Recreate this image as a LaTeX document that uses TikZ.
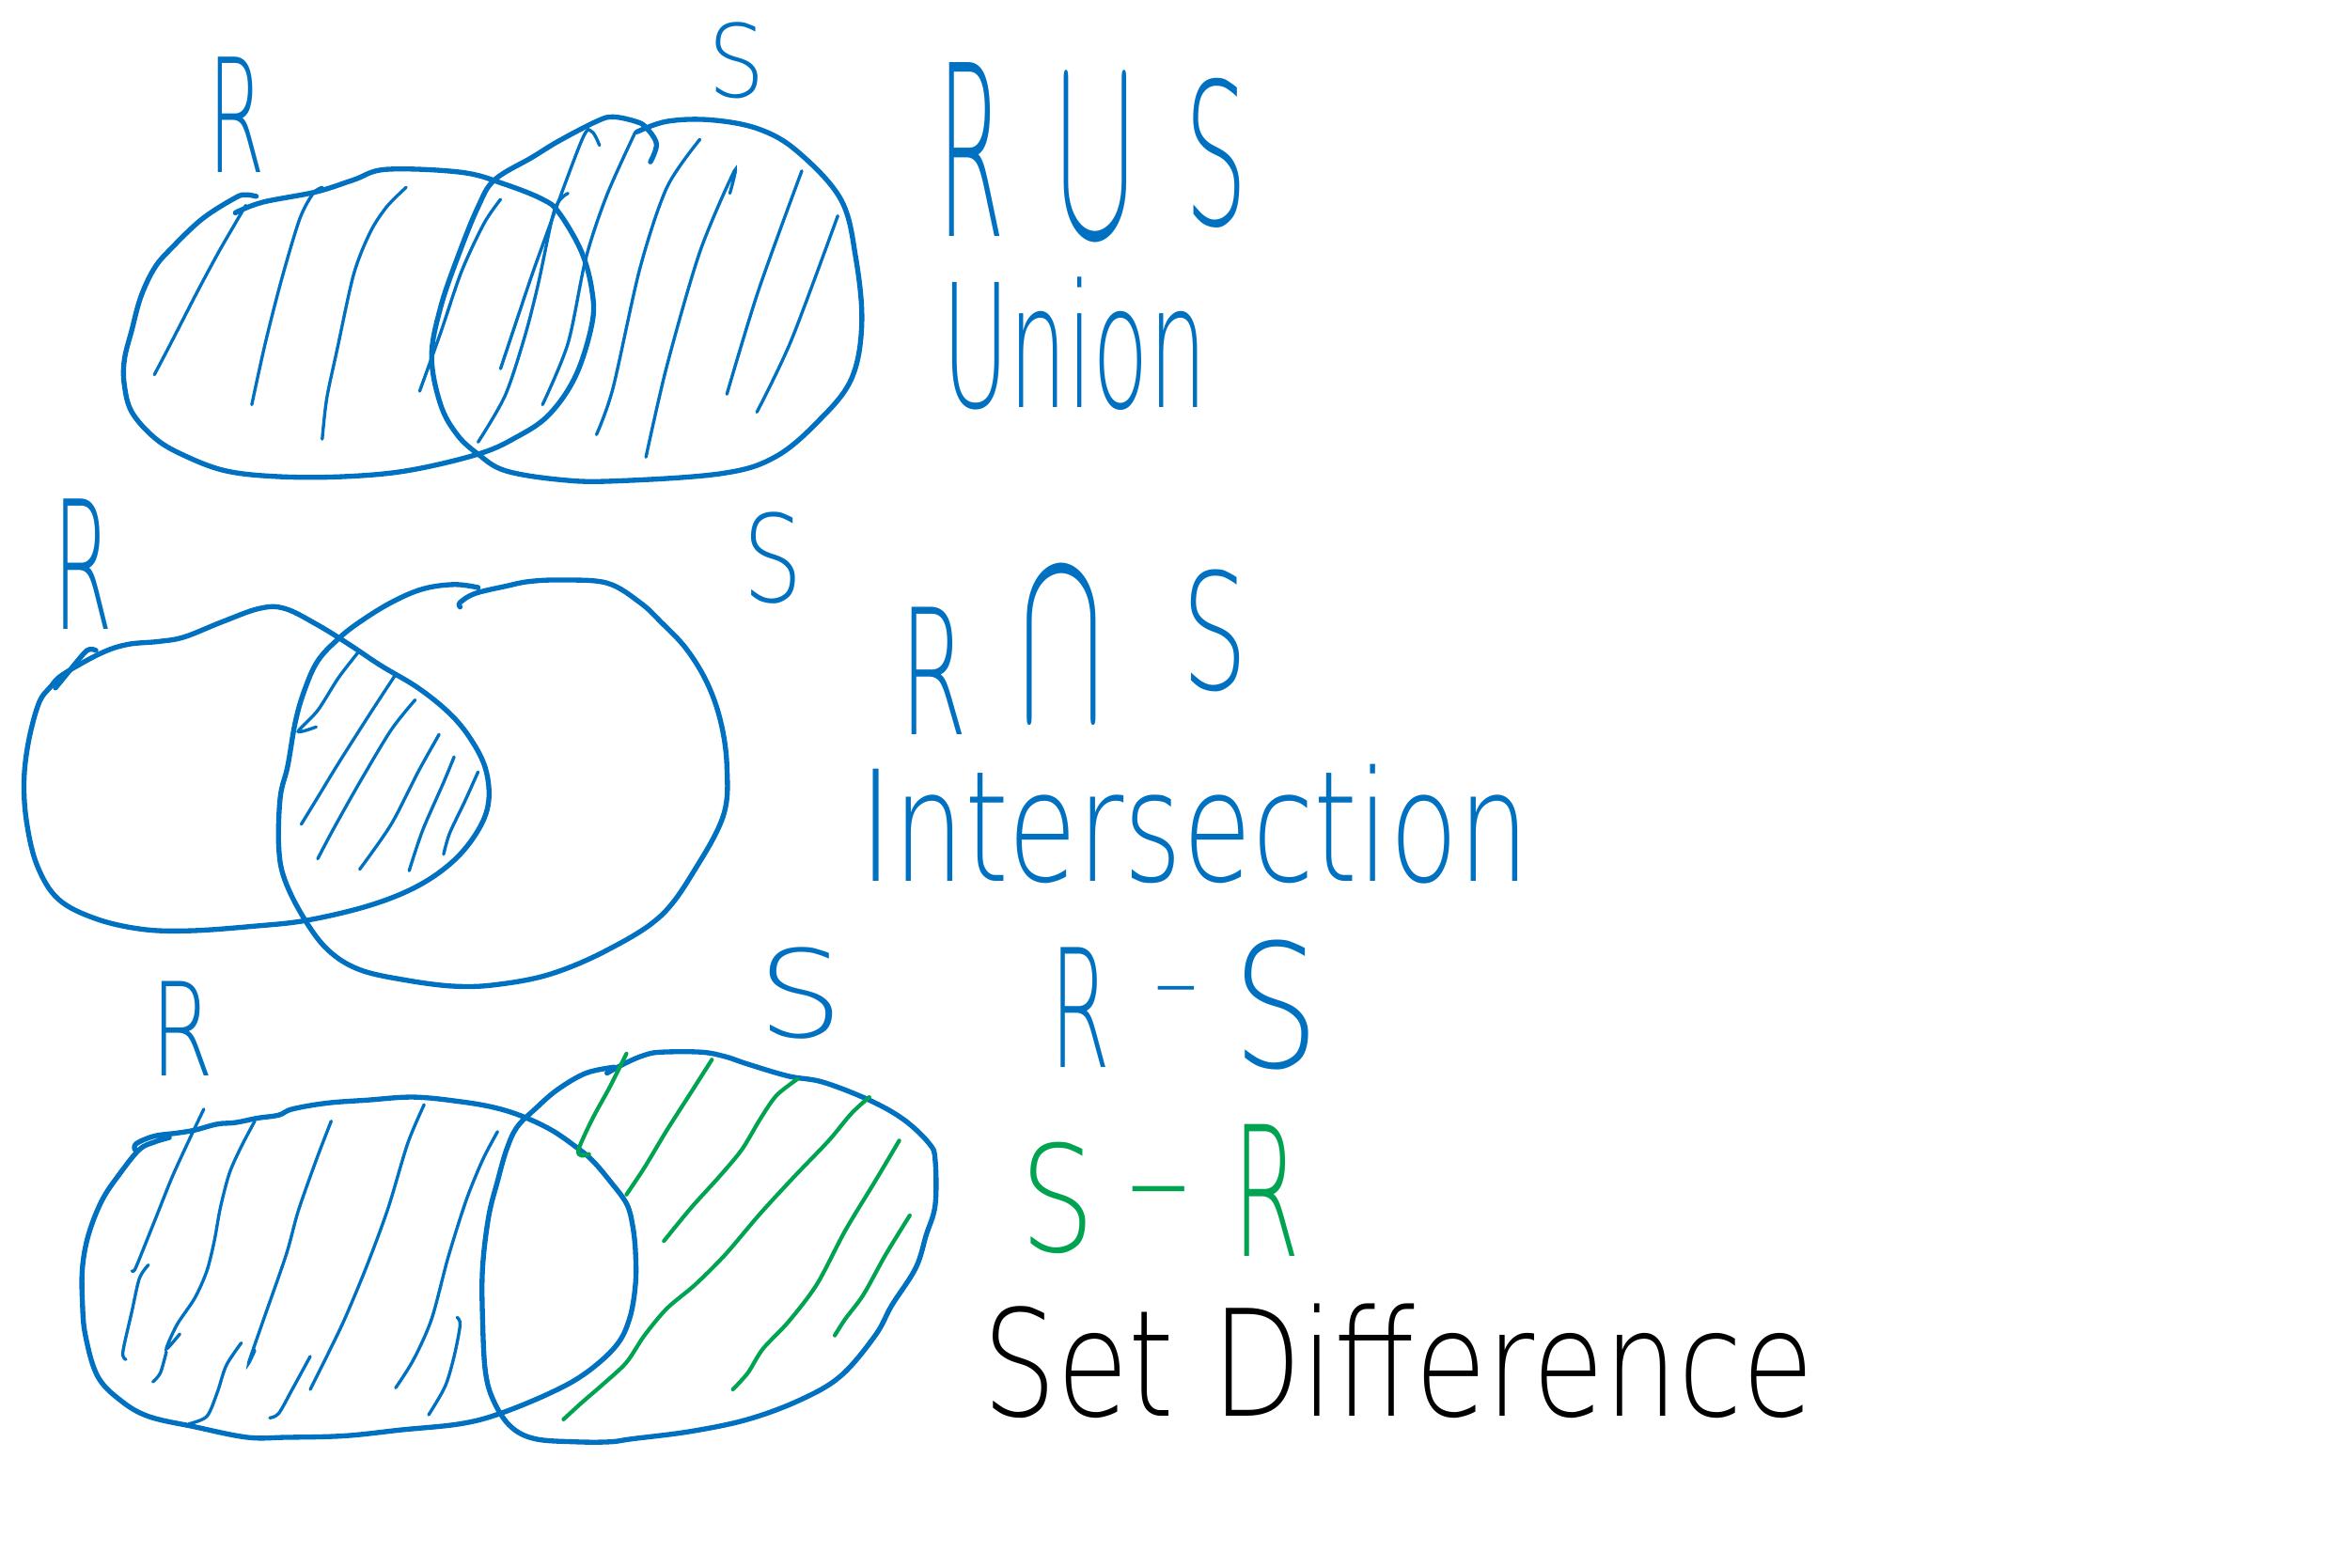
\documentclass[tikz,border=0pt]{standalone}
\usepackage{fontspec}
\usepackage{graphicx}
\IfFontExistsTF{DejaVu Sans ExtraLight}{\newfontfamily\handfont{DejaVu Sans ExtraLight}}{%
  \IfFontExistsTF{Lato Light}{\newfontfamily\handfont{Lato Light}}{\newfontfamily\handfont{Fira Sans}}}
\definecolor{inkblue}{RGB}{0,112,192}
\definecolor{inkgreen}{RGB}{0,163,80}
\newlength{\inkunit}\setlength{\inkunit}{0.01cm}
\newcommand{\hw}[3]{\resizebox{#1\inkunit}{#2\inkunit}{\handfont #3}}
\tikzset{
    blob/.style={draw=inkblue, line width=0.95pt, line cap=round, line join=round},
    hatch/.style={draw=inkblue, line width=0.6pt, line cap=round},
    ghatch/.style={draw=inkgreen, line width=0.75pt, line cap=round},
    hand/.style={inner sep=0pt, anchor=base west, text=inkblue}}

\begin{document}
\begin{tikzpicture}[x=0.01cm, y=-0.01cm]
    \useasboundingbox (0,0) rectangle (1568,1046);

    % union
    \node[hand] (r1) at (138,115) {\hw{38}{77}{R}};
    \node[hand] (s1) at (472,65) {\hw{38}{50}{S}};
    \draw[blob] plot[smooth, tension=0.6] coordinates {(171,131) (164,130) (157,132) (135,146) (114,166) (103,179) (94,198) (88,220) (83,240) (83,257) (88,275) (103,292) (121,303) (150,314) (186,318) (229,318) (272,314) (319,303) (344,292) (366,277) (384,251) (395,216) (395,194) (388,168) (373,142) (362,133) (337,123) (308,115) (258,113) (236,120) (211,128) (175,135) (157,142)};
    \draw[blob] plot[smooth, tension=0.6] coordinates {(434,108) (438,96) (431,85) (424,81) (409,78) (398,81) (373,94) (355,105) (330,120) (319,138) (306,170) (294,205) (288,238) (294,270) (305,290) (319,303) (337,314) (373,320) (409,321) (481,316) (517,305) (546,281) (568,253) (575,216) (571,172) (561,133) (532,101) (506,86) (474,80) (445,81) (425,88)};
    \draw[hatch] plot[smooth] coordinates {(103,250) (114,229) (132,194) (146,168) (157,149) (164,137)};
    \draw[hatch] plot[smooth] coordinates {(168,270) (177,229) (188,186) (200,146) (209,129) (215,125)};
    \draw[hatch] plot[smooth] coordinates {(215,293) (218,266) (225,233) (236,183) (247,155) (258,138) (271,125)};
    \draw[hatch] plot[smooth] coordinates {(280,261) (294,222) (308,181) (323,149) (334,133)};
    \draw[hatch] plot[smooth] coordinates {(319,295) (337,264) (350,225) (359,190) (370,140) (379,129)};
    \draw[hatch] plot[smooth] coordinates {(334,246) (346,210) (359,172) (388,94) (395,88) (400,97)};
    \draw[hatch] plot[smooth] coordinates {(362,270) (379,229) (391,172) (405,130) (424,88)};
    \draw[hatch] plot[smooth] coordinates {(398,290) (409,259) (427,179) (445,125) (467,93)};
    \draw[hatch] plot[smooth] coordinates {(431,305) (445,244) (467,168) (490,114) (487,129)};
    \draw[hatch] plot[smooth] coordinates {(485,263) (506,194) (535,114)};
    \draw[hatch] plot[smooth] coordinates {(505,275) (528,227) (559,144)};
    \node[hand] (rr1) at (625,158) {\hw{45}{116}{R}};
    \node[hand] (cup) at (705,158) {\hw{50}{103}{$\cup$}};
    \node[hand] (ss1) at (790,150) {\hw{42}{98}{S}};
    \node[hand] (union) at (628,272) {\hw{177}{87}{Union}};

    % intersection
    \node[hand] (r2) at (35,420) {\hw{40}{87}{R}};
    \node[hand] (s2) at (495,402) {\hw{40}{60}{S}};
    \draw[blob] plot[smooth] coordinates {(37,459) (46,448) (58,434) (64,434)};
    \draw[blob] plot[smooth cycle, tension=0.6] coordinates {(42,450) (67,436) (85,430) (106,428) (123,425) (148,415) (173,406) (190,406) (212,417) (233,430) (254,444) (279,459) (300,476) (314,493) (324,513) (326,535) (319,554) (303,574) (279,591) (247,604) (205,614) (169,618) (127,621) (95,620) (64,613) (39,600) (25,578) (18,550) (16,522) (19,495) (26,469) (34,458)};
    \draw[blob] plot[smooth, tension=0.6] coordinates {(319,392) (303,390) (282,393) (261,402) (240,415) (226,426) (212,441) (203,461) (197,482) (192,511) (187,532) (186,565) (190,587) (203,613) (219,634) (240,647) (271,654) (303,658) (331,657) (367,650) (405,634) (441,611) (465,578) (483,543) (485,511) (481,482) (472,456) (458,433) (441,415) (427,402) (405,389) (374,387) (353,388) (338,391) (317,396) (307,402) (307,405)};
    \draw[hatch] plot[smooth] coordinates {(240,434) (226,452) (212,474) (199,488) (211,485)};
    \draw[hatch] plot[smooth] coordinates {(201,550) (212,532) (226,509) (247,476) (264,450)};
    \draw[hatch] plot[smooth] coordinates {(212,573) (222,554) (240,522) (261,487) (277,467)};
    \draw[hatch] plot[smooth] coordinates {(240,580) (261,550) (279,515) (293,490)};
    \draw[hatch] plot[smooth] coordinates {(273,581) (282,554) (296,522) (303,505)};
    \draw[hatch] plot[smooth] coordinates {(296,570) (300,556) (310,535) (319,515)};
    \node[hand] (rr2) at (600,490) {\hw{45}{85}{R}};
    \node[hand] (cap) at (680,480) {\hw{55}{97}{$\cap$}};
    \node[hand] (ss2) at (788,460) {\hw{44}{80}{S}};
    \node[hand] (inter) at (573,588) {\hw{447}{78}{Intersection}};

    % difference
    \node[hand] (r3) at (100,718) {\hw{42}{63}{R}};
    \node[hand] (s3) at (505,692) {\hw{57}{60}{S}};
    \draw[blob] plot[smooth, tension=0.6] coordinates {(90,767) (91,763) (103,758) (118,756) (130,754) (145,750) (157,749) (172,746) (186,744) (195,740) (218,736) (245,734) (276,732) (307,735) (330,739) (349,745) (368,754) (384,765) (395,774) (407,788) (418,803) (422,817) (424,835) (424,857) (420,880) (411,898) (391,916) (368,929) (334,943) (307,950) (268,954) (230,958) (191,959) (165,959) (130,952) (99,945) (80,934) (65,918) (57,891) (55,869) (55,846) (59,824) (68,801) (80,783) (93,767) (103,762) (113,759)};
    \draw[blob] plot[smooth, tension=0.6] coordinates {(410,712) (391,716) (372,727) (357,740) (345,752) (338,767) (332,788) (326,812) (322,846) (322,880) (324,916) (330,936) (341,952) (357,960) (384,962) (407,962) (422,960) (461,955) (499,947) (534,934) (561,918) (584,891) (595,871) (611,846) (618,824) (624,804) (624,774) (620,763) (603,747) (580,734) (549,722) (526,718) (499,710) (484,705) (468,702) (441,702) (430,704) (418,709) (405,716)};
    \draw[hatch] plot[smooth] coordinates {(136,740) (126,761) (115,785) (105,810) (95,835) (90,847) (88,848)};
    \draw[hatch] plot[smooth] coordinates {(99,844) (93,853) (88,875) (82,902) (84,907)};
    \draw[hatch] plot[smooth] coordinates {(170,748) (161,765) (153,783) (147,806) (143,828) (138,848) (130,866) (118,884) (111,900) (120,890)};
    \draw[hatch] plot[smooth] coordinates {(111,902) (107,916) (102,922)};
    \draw[hatch] plot[smooth] coordinates {(161,896) (151,911) (145,929) (138,945) (126,950)};
    \draw[hatch] plot[smooth] coordinates {(221,748) (211,774) (199,808) (191,837) (176,880) (166,909) (170,901)};
    \draw[hatch] plot[smooth] coordinates {(207,905) (195,927) (186,943) (180,946)};
    \draw[hatch] plot[smooth] coordinates {(283,737) (272,763) (259,806) (245,844) (230,880) (218,905) (207,927)};
    \draw[hatch] plot[smooth] coordinates {(332,755) (322,774) (311,801) (299,839) (288,880) (276,907) (264,926)};
    \draw[hatch] plot[smooth] coordinates {(305,879) (307,884) (303,905) (297,925) (286,944)};
    \draw[ghatch] plot[smooth] coordinates {(418,703) (407,725) (395,747) (386,767) (388,771) (393,770)};
    \draw[ghatch] plot[smooth] coordinates {(475,707) (461,729) (445,754) (430,779) (418,797)};
    \draw[ghatch] plot[smooth] coordinates {(532,720) (518,731) (507,747) (495,767) (480,785) (461,806) (443,828)};
    \draw[ghatch] plot[smooth] coordinates {(580,732) (568,743) (553,761) (530,785) (507,810) (484,837) (464,857) (445,873) (430,891) (418,909) (403,923) (388,936) (376,947)};
    \draw[ghatch] plot[smooth] coordinates {(600,761) (584,788) (564,821) (545,857) (526,882) (509,900) (499,916) (489,927)};
    \draw[ghatch] plot[smooth] coordinates {(607,811) (591,837) (576,864) (564,880) (557,891)};
    \node[hand] (rr3) at (700,712) {\hw{40}{80}{R}};
    \node[text=inkblue, inner sep=0pt] (minus1) at (785,667) {\resizebox{30\inkunit}{!}{\handfont –}};
    \node[hand] (ss3) at (822,712) {\hw{58}{85}{S}};
    \node[hand, text=inkgreen] (ss4) at (680,835) {\hw{50}{73}{S}};
    \node[text=inkgreen, inner sep=0pt] (minus2) at (773,804) {\resizebox{43\inkunit}{!}{\handfont –}};
    \node[hand, text=inkgreen] (rr4) at (822,838) {\hw{45}{88}{R}};
    \node[hand, text=black] (setdiff) at (655,945) {\hw{555}{75}{Set Difference}};

\end{tikzpicture}
\end{document}
